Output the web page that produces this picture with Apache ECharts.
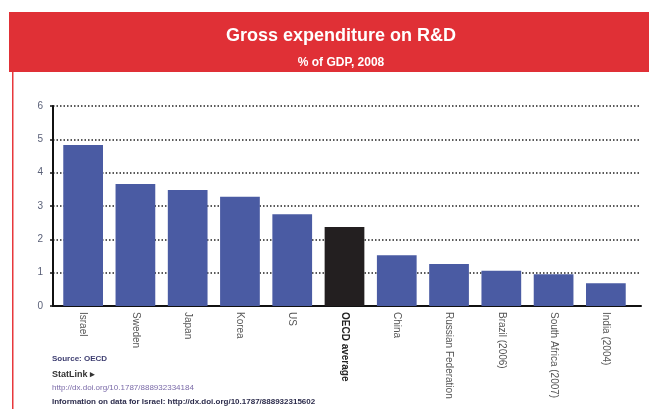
<!DOCTYPE html>
<html>
<head>
<meta charset="utf-8">
<script src="https://cdn.jsdelivr.net/npm/echarts@6/dist/echarts.min.js"></script>
<style>html,body{margin:0;padding:0;background:#fff}#c{width:649px;height:409px}</style>
</head>
<body>
<div id="c"></div>
<script>
var categories = ["Israel", "Sweden", "Japan", "Korea", "US", "OECD average", "China", "Russian Federation", "Brazil (2006)", "South Africa (2007)", "India (2004)"];
var values = [4.83, 3.66, 3.48, 3.28, 2.75, 2.37, 1.52, 1.26, 1.06, 0.95, 0.68];
var yTicks = [0, 1, 2, 3, 4, 5, 6];
var highlight = "OECD average";

var chart = echarts.init(document.getElementById('c'), null, {renderer: 'canvas'});
var FONT = 'Liberation Sans';
chart.setOption({
  animation: false,
  backgroundColor: '#fff',
  title: [
    {text: 'Gross expenditure on R&D', left: 336, top: 22, textAlign: 'center',
     textStyle: {color: '#fff', fontSize: 18, fontWeight: 'bold', fontFamily: FONT}},
    {text: '% of GDP, 2008', left: 336, top: 52, textAlign: 'center',
     textStyle: {color: '#fff', fontSize: 12, fontWeight: 'bold', fontFamily: FONT}}
  ],
  graphic: [
    {type: 'rect', z: -1, shape: {x: 9, y: 12, width: 640, height: 60}, style: {fill: '#e03036'}},
    {type: 'rect', shape: {x: 12, y: 72, width: 1.5, height: 337}, style: {fill: '#e8383c'}},
    {type: 'text', left: 52, top: 355, style: {text: 'Source: OECD', fill: '#3d3d70', font: 'bold 8px ' + FONT}},
    {type: 'text', left: 52, top: 370, style: {text: 'StatLink \u25B8', fill: '#333', font: 'bold 9px ' + FONT}},
    {type: 'text', left: 52, top: 384, style: {text: 'http://dx.doi.org/10.1787/888932334184', fill: '#7a6aa8', font: '8px ' + FONT}},
    {type: 'text', left: 52, top: 398, style: {text: 'Information on data for Israel: http://dx.doi.org/10.1787/888932315602', fill: '#2c2c4c', font: 'bold 8px ' + FONT}}
  ],
  grid: [
    {left: 53, right: 8, top: 106, bottom: 103},
    {left: 57, right: 17, top: 106, bottom: 103}
  ],
  xAxis: [
    {type: 'value', gridIndex: 0, min: 0, max: 1, show: true,
     axisLine: {show: true, lineStyle: {color: '#111', width: 2}},
     axisTick: {show: false}, axisLabel: {show: false}, splitLine: {show: false}},
    {type: 'category', gridIndex: 1, data: categories,
     axisLine: {show: false}, axisTick: {show: false},
     axisLabel: {rotate: -90, interval: 0, fontSize: 10, color: '#555', fontFamily: FONT, margin: 6,
       formatter: function (v) { return v === highlight ? '{b|' + v + '}' : v; },
       rich: {b: {fontWeight: 'bold', color: '#222', fontSize: 10, fontFamily: FONT}}}}
  ],
  yAxis: [
    {type: 'value', gridIndex: 0, min: 0, max: 6, interval: 1,
     axisLine: {show: true, lineStyle: {color: '#111', width: 2}},
     axisTick: {show: true, length: 3, lineStyle: {color: '#111', width: 1.5}},
     axisLabel: {color: '#5a6078', fontSize: 10, fontFamily: FONT, margin: 10,
       formatter: function (v) { return yTicks.indexOf(v) >= 0 ? String(v) : ''; }},
     splitLine: {show: true, lineStyle: {color: '#222', width: 1.5, type: [1.5, 2]}}},
    {type: 'value', gridIndex: 1, min: 0, max: 6, interval: 1, show: false}
  ],
  series: [{
    type: 'bar', xAxisIndex: 1, yAxisIndex: 1,
    barCategoryGap: '24%',
    data: values.map(function (v, i) {
      return {value: v, itemStyle: {color: categories[i] === highlight ? '#231f20' : '#4a5ba3'}};
    })
  }]
});
</script>
</body>
</html>
